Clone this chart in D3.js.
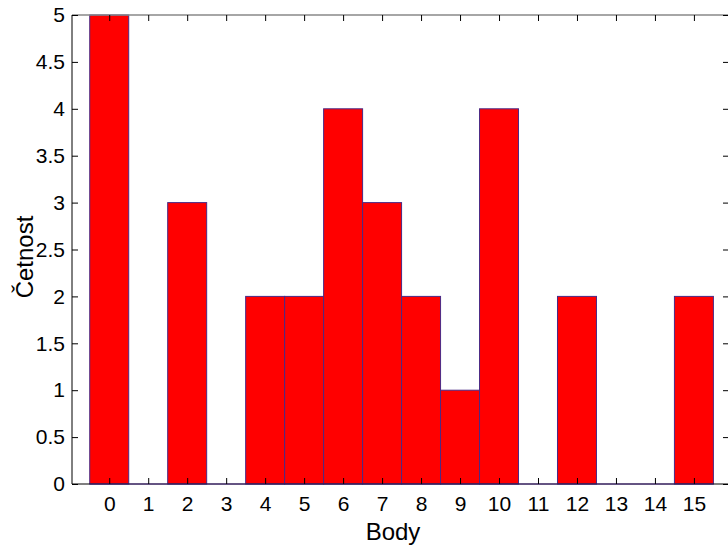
<!DOCTYPE html>
<html>
<head>
<meta charset="utf-8">
<script src="https://cdn.jsdelivr.net/npm/d3@7"></script>
<style>
  body { margin: 0; background: #fff; }
  svg { display: block; }
  text { font-family: "Liberation Sans", Arial, sans-serif; fill: #000; }
</style>
</head>
<body>
<svg id="chart" width="728" height="547"></svg>
<script>
// histogram data (body -> count)
var bins = [0, 1, 2, 3, 4, 5, 6, 7, 8, 9, 10, 11, 12, 13, 14, 15];
var counts = [5, 0, 3, 0, 2, 2, 4, 3, 2, 1, 4, 0, 2, 0, 0, 2];
var yTicks = [0, 0.5, 1, 1.5, 2, 2.5, 3, 3.5, 4, 4.5, 5];
var xLabel = "Body";
var yLabel = "Četnost";

var svg = d3.select("#chart");
var m = {left: 72, right: 729, top: 15, bottom: 484};

var x = d3.scaleLinear().domain([-0.955, 15.9]).range([m.left, m.right]);
var y = d3.scaleLinear().domain([0, 5]).range([m.bottom, m.top]);

var edge = "#4a2a86";
var fontSize = "21px";

// bars
svg.append("g").selectAll("rect")
    .data(bins.filter(function(d, i) { return counts[i] > 0; }))
    .enter()
    .append("rect")
    .attr("x", function(d) { return x(d - 0.5); })
    .attr("y", function(d) { return y(counts[d]); })
    .attr("width", function(d) { return x(d + 0.5) - x(d - 0.5); })
    .attr("height", function(d) { return y(0) - y(counts[d]); })
    .attr("fill", "#ff0000")
    .attr("stroke", edge)
    .attr("stroke-width", 1);

// axes box
var g = svg.append("g");
g.append("line").attr("x1", m.left).attr("x2", m.left).attr("y1", m.top).attr("y2", m.bottom)
    .attr("stroke", "#000");
g.append("line").attr("x1", m.left).attr("x2", m.right).attr("y1", m.bottom).attr("y2", m.bottom)
    .attr("stroke", "#000");
g.append("line").attr("x1", m.left).attr("x2", m.right).attr("y1", m.top).attr("y2", m.top)
    .attr("stroke", "#888").attr("stroke-width", 1.5);
// baseline of the histogram
g.append("line").attr("x1", x(-0.5)).attr("x2", x(15.5)).attr("y1", m.bottom).attr("y2", m.bottom)
    .attr("stroke", edge);

// x axis ticks + labels
var xa = svg.append("g").attr("transform", "translate(0," + m.bottom + ")")
    .call(d3.axisBottom(x).tickValues(bins).tickFormat(d3.format("d")).tickSizeInner(-6).tickSizeOuter(0).tickPadding(12));
xa.select(".domain").remove();
xa.selectAll("text").attr("font-size", fontSize).attr("font-family", "Liberation Sans, Arial, sans-serif");
xa.selectAll("line").attr("stroke", "#000");

// top ticks
var xt = svg.append("g").attr("transform", "translate(0," + m.top + ")")
    .call(d3.axisTop(x).tickValues(bins).tickSizeInner(-6).tickSizeOuter(0).tickFormat(""));
xt.select(".domain").remove();

// y axis ticks + labels
var ya = svg.append("g").attr("transform", "translate(" + m.left + ",0)")
    .call(d3.axisLeft(y).tickValues(yTicks).tickFormat(d3.format("")).tickSizeInner(-6).tickSizeOuter(0).tickPadding(7));
ya.select(".domain").remove();
ya.selectAll("text").attr("font-size", fontSize).attr("font-family", "Liberation Sans, Arial, sans-serif");

// right ticks
var yr = svg.append("g").attr("transform", "translate(" + m.right + ",0)")
    .call(d3.axisRight(y).tickValues(yTicks).tickSizeInner(-6).tickSizeOuter(0).tickFormat(""));
yr.select(".domain").remove();

// axis labels
svg.append("text")
    .attr("x", 393)
    .attr("y", 540)
    .attr("text-anchor", "middle")
    .attr("font-size", "24px")
    .text(xLabel);

svg.append("text")
    .attr("transform", "translate(33,257) rotate(-90)")
    .attr("text-anchor", "middle")
    .attr("font-size", "24px")
    .text(yLabel);
</script>
</body>
</html>
